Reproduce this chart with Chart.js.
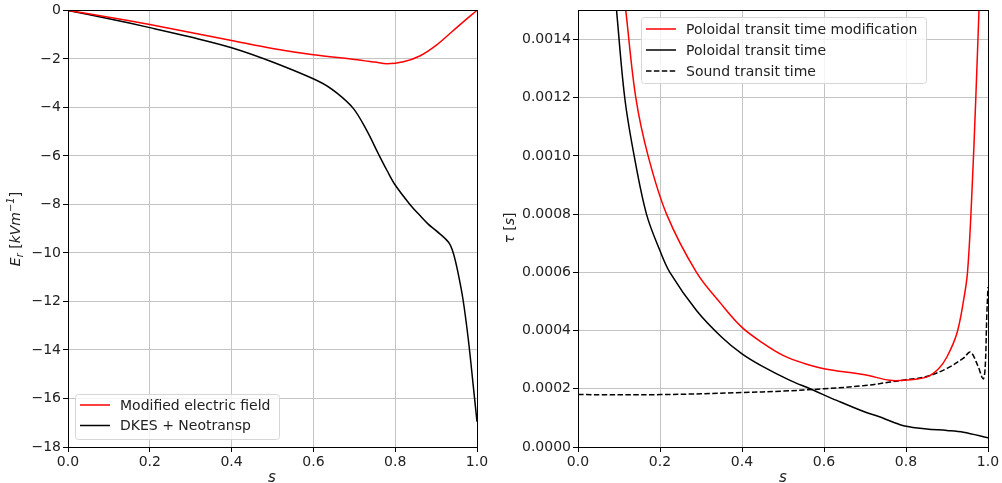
<!DOCTYPE html>
<html>
<head>
<meta charset="utf-8">
<script src="https://cdn.jsdelivr.net/npm/chart.js@4.4.1/dist/chart.umd.min.js"></script>
<style>
  html, body { margin: 0; padding: 0; background: #fff; }
  #wrap { position: relative; width: 1002px; height: 483px; }
  .box { position: absolute; top: 0; height: 483px; }
</style>
</head>
<body>
<div id="wrap">
  <div class="box" style="left:0;width:500px"><canvas id="left"></canvas></div>
  <div class="box" style="left:500px;width:502px"><canvas id="right"></canvas></div>
</div>
<script>
// ---- data ----
var xTicks = [0, 0.2, 0.4, 0.6, 0.8, 1.0];
var erTicks = [-18, -16, -14, -12, -10, -8, -6, -4, -2, 0];
var tauTicks = [0, 0.0002, 0.0004, 0.0006, 0.0008, 0.0010, 0.0012, 0.0014];

// left panel: radial electric field
var modErS = [0, 0.1, 0.2, 0.3, 0.4, 0.5, 0.6, 0.7, 0.75, 0.78, 0.82, 0.86, 0.9, 0.94, 0.97, 1.0];
var modEr  = [0, -0.28, -0.58, -0.91, -1.24, -1.57, -1.83, -2.02, -2.13, -2.2, -2.12, -1.88, -1.44, -0.86, -0.42, 0];
var dkesS  = [0, 0.1, 0.2, 0.3, 0.4, 0.5, 0.616, 0.657, 0.698, 0.73, 0.76, 0.78, 0.8, 0.836, 0.86, 0.88, 0.9, 0.93, 0.942, 0.954, 0.966, 0.979, 0.991, 1.0];
var dkesEr = [0, -0.34, -0.71, -1.1, -1.54, -2.13, -2.95, -3.4, -4.05, -4.94, -5.95, -6.6, -7.2, -8.0, -8.45, -8.8, -9.08, -9.55, -10.0, -10.85, -11.94, -13.6, -15.5, -16.96];

// right panel: transit times [s]
var polModS = [0.1165, 0.141, 0.171, 0.216, 0.289, 0.35, 0.4, 0.45, 0.5, 0.55, 0.6, 0.7, 0.761, 0.8, 0.85, 0.88, 0.9, 0.924, 0.94, 0.95, 0.96, 0.97, 0.978];
var polMod  = [0.0015, 0.0012, 0.001, 0.0008, 0.0006, 0.00049, 0.000411, 0.000358, 0.000315, 0.000288, 0.000269, 0.000248, 0.000229, 0.00023, 0.00024, 0.00027, 0.00031, 0.00039, 0.0005, 0.0006, 0.00085, 0.00119, 0.0015];
var polS    = [0.094, 0.114, 0.137, 0.167, 0.2, 0.224, 0.289, 0.35, 0.4, 0.45, 0.517, 0.566, 0.631, 0.7, 0.737, 0.76, 0.8, 0.85, 0.9, 0.94, 1.0];
var pol     = [0.0015, 0.0012, 0.001, 0.0008, 0.000674, 0.0006, 0.000469, 0.000378, 0.00032, 0.000277, 0.000229, 0.0002, 0.00016, 0.00012, 0.000103, 0.00009, 0.000071, 0.000062, 0.000057, 0.000051, 0.000032];
var soundS  = [0, 0.2, 0.4, 0.5, 0.6, 0.7, 0.761, 0.8, 0.85, 0.9, 0.94, 0.957, 0.975, 0.988, 0.993, 0.997, 1.0];
var sound   = [0.00018, 0.00018, 0.000187, 0.000192, 0.0002, 0.000211, 0.000223, 0.000231, 0.000242, 0.00027, 0.000305, 0.000326, 0.00028, 0.000234, 0.00027, 0.00045, 0.00055];

var FONT = "'DejaVu Sans', sans-serif";

function pts(xs, ys) {
  return xs.map(function(x, i) { return { x: x, y: ys[i] }; });
}

function line(label, xs, ys, color, dash) {
  return {
    label: label, data: pts(xs, ys), borderColor: color, borderWidth: 1.5,
    borderDash: dash || [], pointRadius: 0, fill: false, tension: 0.35
  };
}

function axis(min, max, tickArr, fmt, fitFn) {
  return {
    type: 'linear', min: min, max: max,
    grid: { color: '#c4c4c4', lineWidth: 1, tickLength: 5, tickColor: '#000', drawTicks: true },
    border: { color: '#000', width: 1 },
    ticks: { color: '#222', font: { family: FONT, size: 14 }, padding: 2, callback: fmt, maxRotation: 0, autoSkip: false },
    afterBuildTicks: function(s) { s.ticks = tickArr.map(function(v) { return { value: v }; }); },
    afterFit: fitFn
  };
}

// draw a run of text pieces: [text, italic, size, shift]
function drawPieces(ctx, pieces, cx, cy, rotate) {
  ctx.save();
  ctx.translate(cx, cy);
  if (rotate) ctx.rotate(-Math.PI / 2);
  ctx.textBaseline = 'alphabetic';
  ctx.fillStyle = '#222';
  var total = 0;
  pieces.forEach(function(p) {
    ctx.font = (p[1] ? 'italic ' : '') + p[2] + 'px ' + FONT;
    p.w = ctx.measureText(p[0]).width;
    total += p.w;
  });
  var x = -total / 2;
  pieces.forEach(function(p) {
    ctx.font = (p[1] ? 'italic ' : '') + p[2] + 'px ' + FONT;
    ctx.fillText(p[0], x, 5 + p[3]);
    x += p.w;
  });
  ctx.restore();
}

function drawLegend(ctx, chart, box) {
  ctx.save();
  ctx.beginPath();
  if (ctx.roundRect) ctx.roundRect(box.x + 0.5, box.y + 0.5, box.w, box.h, 3);
  else ctx.rect(box.x + 0.5, box.y + 0.5, box.w, box.h);
  ctx.fillStyle = 'rgba(255,255,255,0.8)';
  ctx.fill();
  ctx.strokeStyle = '#d6d6d6';
  ctx.lineWidth = 1;
  ctx.stroke();
  chart.data.datasets.forEach(function(ds, i) {
    var y = box.y + box.first + i * box.row;
    ctx.beginPath();
    ctx.setLineDash(ds.borderDash || []);
    ctx.strokeStyle = ds.borderColor;
    ctx.lineWidth = 1.5;
    ctx.moveTo(box.x + 5, y);
    ctx.lineTo(box.x + 35, y);
    ctx.stroke();
    ctx.setLineDash([]);
    ctx.fillStyle = '#222';
    ctx.font = '14px ' + FONT;
    ctx.textBaseline = 'middle';
    ctx.fillText(ds.label, box.x + 45, y + 1);
  });
  ctx.restore();
}

function decor(legendBox, yTitle, yTitlePos, xTitlePos) {
  return {
    id: 'decor',
    afterDatasetsDraw: function(chart) {
      var ctx = chart.ctx, a = chart.chartArea;
      ctx.save();
      ctx.strokeStyle = '#000';
      ctx.lineWidth = 1;
      ctx.strokeRect(Math.round(a.left) + 0.5, Math.round(a.top) + 0.5,
                     Math.round(a.right - a.left), Math.round(a.bottom - a.top));
      ctx.restore();
      drawLegend(ctx, chart, legendBox);
      drawPieces(ctx, yTitle, yTitlePos[0], yTitlePos[1], true);
      drawPieces(ctx, [['s', true, 15, 0]], xTitlePos[0], xTitlePos[1], false);
    }
  };
}

Chart.defaults.font.family = FONT;
Chart.defaults.animation = false;

var fmtX = function(v) { return v.toFixed(1); };
var fmtEr = function(v) { return v < 0 ? '\u2212' + Math.abs(v) : String(v); };
var fmtTau = function(v) { return v.toFixed(4); };

new Chart(document.getElementById('left').getContext('2d'), {
  type: 'line',
  data: { datasets: [
    line('Modified electric field', modErS, modEr, '#ff0000'),
    line('DKES + Neotransp', dkesS, dkesEr, '#000000')
  ] },
  options: {
    responsive: true, maintainAspectRatio: false,
    layout: { padding: { top: 10, right: 23, left: 0, bottom: 0 } },
    scales: {
      x: axis(0, 1, xTicks, fmtX, function(s) { s.height = 36; }),
      y: axis(-18, 0, erTicks, fmtEr, function(s) { s.width = 68; })
    },
    plugins: { legend: { display: false }, tooltip: { enabled: false } }
  },
  plugins: [decor({ x: 75, y: 394, w: 204, h: 45, first: 11, row: 20.5 },
    [['E', true, 14, 0], ['r', true, 10, 3], [' [', false, 14, 0], ['kVm', true, 14, 0], ['\u22121', true, 10, -6], [']', false, 14, 0]],
    [15, 229], [272, 477])]
});

new Chart(document.getElementById('right').getContext('2d'), {
  type: 'line',
  data: { datasets: [
    line('Poloidal transit time modification', polModS, polMod, '#ff0000'),
    line('Poloidal transit time', polS, pol, '#000000'),
    line('Sound transit time', soundS, sound, '#000000', [5.5, 2.4])
  ] },
  options: {
    responsive: true, maintainAspectRatio: false,
    layout: { padding: { top: 10, right: 14, left: 0, bottom: 0 } },
    scales: {
      x: axis(0, 1, xTicks, fmtX, function(s) { s.height = 36; }),
      y: axis(0, 0.0015, tauTicks, fmtTau, function(s) { s.width = 78; })
    },
    plugins: { legend: { display: false }, tooltip: { enabled: false } }
  },
  plugins: [decor({ x: 141, y: 17, w: 285, h: 66, first: 12, row: 21 },
    [['\u03c4', true, 14, 0], [' [', false, 14, 0], ['s', true, 14, 0], [']', false, 14, 0]],
    [9, 228], [283, 477])]
});
</script>
</body>
</html>
